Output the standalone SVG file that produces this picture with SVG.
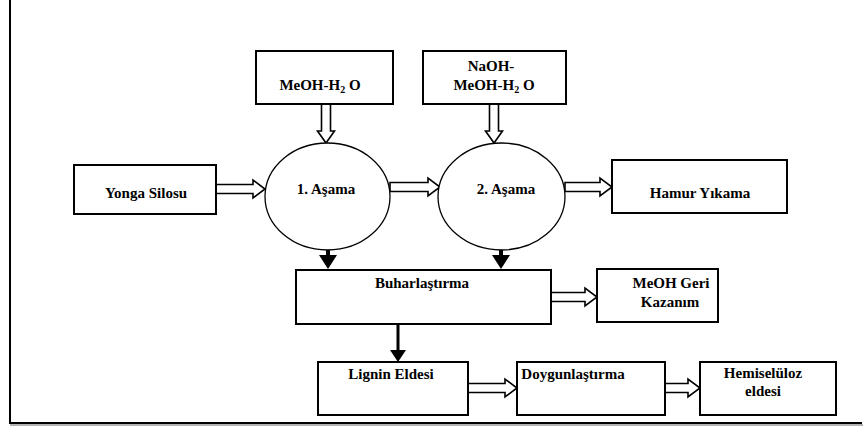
<svg xmlns="http://www.w3.org/2000/svg" width="866" height="427" viewBox="0 0 866 427">
<style>
.box{fill:#fff;stroke:#000;stroke-width:2}
.circ{fill:#fff;stroke:#000;stroke-width:1.3}
.t{font-family:'Liberation Serif','DejaVu Serif','Times New Roman',serif;font-weight:bold;font-size:15px;fill:#000;text-anchor:middle}
.ha{fill:#fff;stroke:#000;stroke-width:1.6;stroke-linejoin:miter}
.fa{fill:#000;stroke:none}
</style>
<rect width="866" height="427" fill="#fff"/>
<g id="frame">
<line x1="10" y1="0" x2="10" y2="423" stroke="#000" stroke-width="2"/>
<line x1="9" y1="423" x2="862" y2="423" stroke="#000" stroke-width="2"/>
<line x1="10" y1="425" x2="863" y2="425" stroke="#999" stroke-width="1.5"/>
</g>
<g id="connectors">
<path class="ha" d="M321.5,104 V131 H317.5 L326,143 L334.5,131 H330.5 V104 Z"/>
<path class="ha" d="M489.5,104 V131 H485.5 L494,143 L502.5,131 H498.5 V104 Z"/>
<path class="ha" d="M216,184.5 H253 V180 L265,189 L253,198 V193.5 H216 Z"/>
<path class="ha" d="M390,182.5 H428 V178 L440,187 L428,196 V191.5 H390 Z"/>
<path class="ha" d="M565,182.5 H600 V178 L612,187 L600,196 V191.5 H565 Z"/>
<path class="ha" d="M551,292.5 H585 V288 L597,297 L585,306 V301.5 H551 Z"/>
<path class="ha" d="M468,383.5 H505 V379 L517,388 L505,397 V392.5 H468 Z"/>
<path class="ha" d="M665,383.5 H688 V379 L700,388 L688,397 V392.5 H665 Z"/>
<path class="fa" d="M326,250 H330 V255 H337 L328,269 L319,255 H326 Z"/>
<path class="fa" d="M499,250 H503 V255 H510 L501,269 L492,255 H499 Z"/>
<path class="fa" d="M396.5,324 H399.5 V350 H406 L398,362 L390,350 H396.5 Z"/>
</g>
<g id="n-meoh-h2o">
<rect class="box" x="256" y="51" width="137" height="53"/>
<text class="t" x="320" y="90" font-family="Liberation Serif, serif">MeOH-H<tspan font-size="10" dy="3">2</tspan><tspan dy="-3"> O</tspan></text>
</g>
<g id="n-naoh">
<rect class="box" x="423" y="51" width="143" height="53"/>
<text class="t" x="491" y="71" font-family="Liberation Serif, serif">NaOH-</text>
<text class="t" x="494" y="90" font-family="Liberation Serif, serif">MeOH-H<tspan font-size="10" dy="3">2</tspan><tspan dy="-3"> O</tspan></text>
</g>
<g id="n-yonga">
<rect class="box" x="74" y="165" width="142" height="49"/>
<text class="t" x="146" y="198" font-family="Liberation Serif, serif">Yonga Silosu</text>
</g>
<g id="n-asama1">
<ellipse class="circ" cx="327.5" cy="196.5" rx="62.5" ry="53.5"/>
<text class="t" x="326" y="194" font-family="Liberation Serif, serif">1. Aşama</text>
</g>
<g id="n-asama2">
<ellipse class="circ" cx="501.5" cy="196.5" rx="63.5" ry="53.5"/>
<text class="t" x="506" y="194" font-family="Liberation Serif, serif">2. Aşama</text>
</g>
<g id="n-hamur">
<rect class="box" x="612" y="160" width="175" height="53"/>
<text class="t" x="700" y="198" font-family="Liberation Serif, serif">Hamur Yıkama</text>
</g>
<g id="n-buhar">
<rect class="box" x="296" y="270" width="255" height="54"/>
<text class="t" x="422" y="288" font-family="Liberation Serif, serif">Buharlaştırma</text>
</g>
<g id="n-meoh-geri">
<rect class="box" x="597" y="269" width="121" height="53"/>
<text class="t" x="671" y="288" font-family="Liberation Serif, serif">MeOH Geri</text>
<text class="t" x="670" y="307" font-family="Liberation Serif, serif">Kazanım</text>
</g>
<g id="n-lignin">
<rect class="box" x="318" y="362" width="150" height="53"/>
<text class="t" x="391" y="379" font-family="Liberation Serif, serif">Lignin Eldesi</text>
</g>
<g id="n-doygun">
<rect class="box" x="517" y="362" width="148" height="53"/>
<text class="t" x="573" y="379" font-family="Liberation Serif, serif">Doygunlaştırma</text>
</g>
<g id="n-hemi">
<rect class="box" x="700" y="362" width="136" height="53"/>
<text class="t" x="763" y="378" font-family="Liberation Serif, serif">Hemiselüloz</text>
<text class="t" x="763" y="396" font-family="Liberation Serif, serif">eldesi</text>
</g>
</svg>
